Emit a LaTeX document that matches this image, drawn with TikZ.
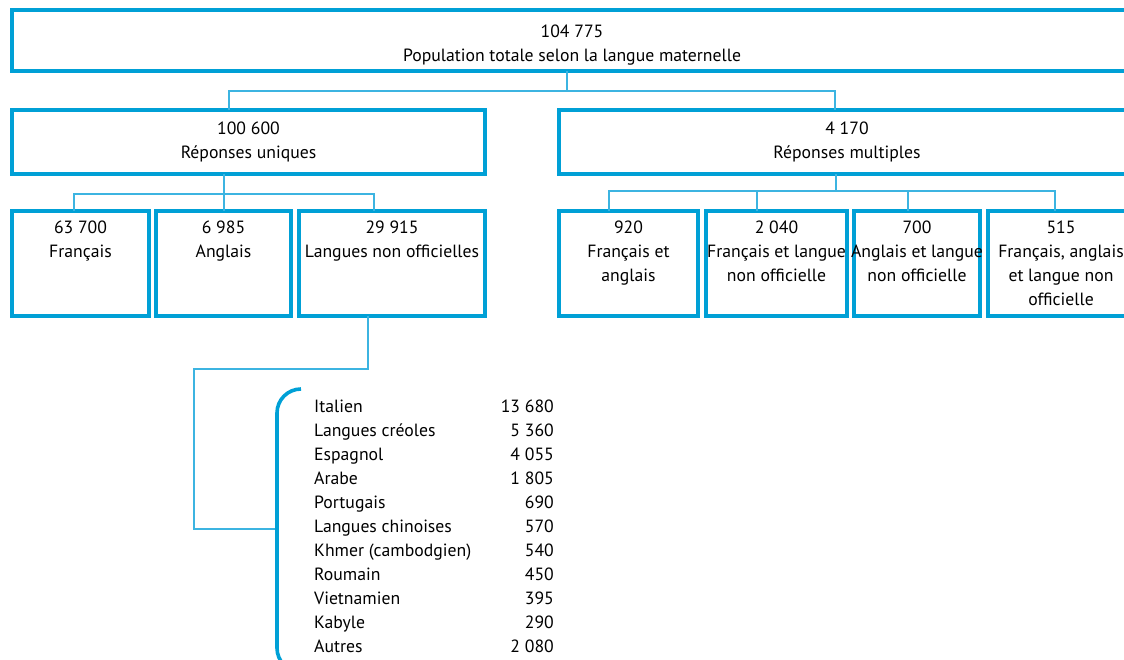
\documentclass[tikz,border=0pt]{standalone}
\usepackage{fontspec}
\setmainfont{PT Sans}
\definecolor{boxblue}{RGB}{0,160,214}
\definecolor{lineblue}{RGB}{60,180,225}

\begin{document}
\begin{tikzpicture}[x=1pt,y=-1pt,
  box/.style={draw=boxblue,line width=3.6pt,inner sep=0pt,outer sep=0pt},
  txt/.style={anchor=north,align=center,inner sep=0pt,font=\fontsize{17.7}{24}\selectfont},
  item/.style={inner sep=0pt,font=\fontsize{17.7}{24}\selectfont},
  conn/.style={draw=lineblue,line width=1.3pt}]
\useasboundingbox (0,0) rectangle (1124,660);
\clip (0,0) rectangle (1124,660);
% top level
\node[box,minimum width=1120pt,minimum height=61pt] (top) at (572,40.5) {};
\node[txt] (toptxt) at ([yshift=-15pt]top.north) {104 775\\Population totale selon la langue maternelle};
% second level
\node[box,minimum width=473pt,minimum height=64pt] (uni) at (248.5,142) {};
\node[txt] (unitxt) at ([yshift=-12pt]uni.north) {100 600\\Réponses uniques};
\node[box,minimum width=576pt,minimum height=64pt] (multi) at (847,142) {};
\node[txt] (multitxt) at ([yshift=-12pt]multi.north) {4 170\\Réponses multiples};
% third level, single answers
\node[box,minimum width=137pt,minimum height=105pt] (fr) at (80.5,263.5) {};
\node[txt] (frtxt) at ([yshift=-10pt]fr.north) {63 700\\Français};
\node[box,minimum width=135pt,minimum height=105pt] (an) at (223.5,263.5) {};
\node[txt] (antxt) at ([yshift=-10pt]an.north) {6 985\\Anglais};
\node[box,minimum width=186pt,minimum height=105pt] (lno) at (392,263.5) {};
\node[txt] (lnotxt) at ([yshift=-10pt]lno.north) {29 915\\Langues non officielles};
% third level, multiple answers
\node[box,minimum width=139pt,minimum height=105pt] (fa) at (628.5,263.5) {};
\node[txt] (fatxt) at ([yshift=-10pt]fa.north) {920\\Français et\\anglais};
\node[box,minimum width=141pt,minimum height=105pt] (fl) at (776.5,263.5) {};
\node[txt] (fltxt) at ([yshift=-10pt]fl.north) {2 040\\Français et langue\\non officielle};
\node[box,minimum width=126pt,minimum height=105pt] (al) at (917,263.5) {};
\node[txt] (altxt) at ([yshift=-10pt]al.north) {700\\Anglais et langue\\non officielle};
\node[box,minimum width=146pt,minimum height=105pt] (fal) at (1061,263.5) {};
\node[txt] (faltxt) at ([yshift=-10pt]fal.north) {515\\Français, anglais\\et langue non\\officielle};
% connectors
\draw[conn] ([xshift=-5pt]top.south) -- ++(0,20) -| ([xshift=-19.5pt]uni.north);
\draw[conn] ([xshift=-5pt]top.south) ++(0,20) -| ([xshift=-12pt]multi.north);
\draw[conn] ([xshift=-24.5pt]uni.south) -- ([xshift=0.5pt]an.north);
\draw[conn] ([xshift=-24.5pt]uni.south) ++(0,20) -| ([xshift=-6.5pt]fr.north);
\draw[conn] ([xshift=-24.5pt]uni.south) ++(0,20) -| ([xshift=-18pt]lno.north);
\draw[conn] ([xshift=-11pt]multi.south) -- ++(0,17) -| ([xshift=-19.5pt]fa.north);
\draw[conn] ([xshift=-11pt]multi.south) ++(0,17) -| ([xshift=-19.5pt]fl.north);
\draw[conn] ([xshift=-11pt]multi.south) ++(0,17) -| ([xshift=-9pt]al.north);
\draw[conn] ([xshift=-11pt]multi.south) ++(0,17) -| ([xshift=-6pt]fal.north);
% list of non official languages
\coordinate (brc) at (275,529);
\draw[conn] ([xshift=-24pt]lno.south) -- ++(0,53) -| ++(-174,160) -- (brc);
\draw[boxblue,line width=3.6pt,rounded corners=24pt] (301,389) -- (277,389) -- (277,672) -- (301,672);
\foreach \nm/\val [count=\i] in {Italien/13 680,Langues créoles/5 360,Espagnol/4 055,Arabe/1 805,
  Portugais/690,Langues chinoises/570,Khmer (cambodgien)/540,Roumain/450,Vietnamien/395,
  Kabyle/290,Autres/2 080}{
  \node[item,anchor=base west] (n\i) at (314,{388+24*\i}) {\nm};
  \node[item,anchor=base east] (v\i) at (554,{388+24*\i}) {\val};
}
\end{tikzpicture}
\end{document}
